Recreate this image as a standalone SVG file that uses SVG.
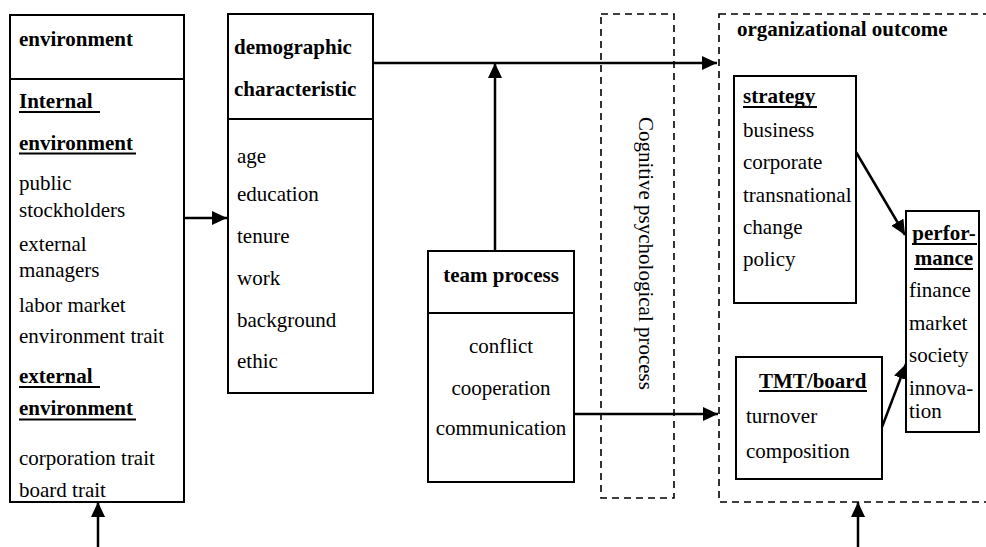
<svg xmlns="http://www.w3.org/2000/svg" width="986" height="547" viewBox="0 0 986 547">
<defs>
<marker id="ah" markerUnits="userSpaceOnUse" markerWidth="16" markerHeight="16" refX="15" refY="7" orient="auto">
<path d="M0,0 L15,7 L0,14 z" fill="#000"/>
</marker>
<style>
text{font-family:"Liberation Serif","Times New Roman",serif;font-size:21px;fill:#000}
.b{font-weight:bold}
.c{text-anchor:middle}
.box{fill:#fff;stroke:#000;stroke-width:2}
.dash{fill:none;stroke:#000;stroke-width:1.6;stroke-dasharray:7,5}
.ul{stroke:#000;stroke-width:2}
.con{fill:none;stroke:#000;stroke-width:2.5;marker-end:url(#ah)}
</style>
</defs>
<rect width="986" height="547" fill="#fff"/>

<g id="cognitive">
<rect class="dash" x="601" y="14" width="73" height="484"/>
<text transform="translate(639,117) rotate(90)">Cognitive psychological process</text>
</g>

<g id="organizational-outcome">
<rect class="dash" x="719" y="14" width="300" height="488"/>
<text class="b" x="737" y="36">organizational outcome</text>
</g>

<g id="environment">
<rect class="box" x="10" y="15" width="174" height="487"/>
<line class="ul" x1="10" y1="79" x2="184" y2="79" style="stroke-width:2"/>
<text class="b" x="19" y="46">environment</text>
<text class="b" x="19" y="108">Internal </text>
<line class="ul" x1="19" y1="112" x2="100" y2="112"/>
<text class="b" x="19" y="150">environment</text>
<line class="ul" x1="19" y1="153.5" x2="136" y2="153.5"/>
<text x="19" y="190">public</text>
<text x="19" y="217">stockholders</text>
<text x="19" y="251">external</text>
<text x="19" y="277">managers</text>
<text x="19" y="312">labor market</text>
<text x="19" y="343">environment trait</text>
<text class="b" x="19" y="383">external </text>
<line class="ul" x1="19" y1="387" x2="100" y2="387"/>
<text class="b" x="19" y="415">environment</text>
<line class="ul" x1="19" y1="419.5" x2="136" y2="419.5"/>
<text x="19" y="465">corporation trait</text>
<text x="19" y="497">board trait</text>
</g>

<g id="demographic">
<rect class="box" x="228" y="14" width="145" height="379"/>
<line class="ul" x1="228" y1="119" x2="373" y2="119"/>
<text class="b" x="234" y="54">demographic</text>
<text class="b" x="234" y="96">characteristic</text>
<text x="237" y="163">age</text>
<text x="237" y="201">education</text>
<text x="237" y="243">tenure</text>
<text x="237" y="285">work</text>
<text x="237" y="327">background</text>
<text x="237" y="368">ethic</text>
</g>

<g id="team-process">
<rect class="box" x="428" y="251" width="146" height="231"/>
<line class="ul" x1="428" y1="313" x2="574" y2="313"/>
<text class="b c" x="501" y="282">team process</text>
<text class="c" x="501" y="353">conflict</text>
<text class="c" x="501" y="395">cooperation</text>
<text class="c" x="501" y="435">communication</text>
</g>

<g id="strategy">
<rect class="box" x="734" y="76" width="122" height="227"/>
<text class="b" x="743" y="103">strategy</text>
<line class="ul" x1="743" y1="107" x2="817" y2="107"/>
<text x="743" y="137">business</text>
<text x="743" y="169">corporate</text>
<text x="743" y="202">transnational</text>
<text x="743" y="234">change</text>
<text x="743" y="266">policy</text>
</g>

<g id="performance">
<rect class="box" x="906" y="211" width="73" height="221"/>
<text class="b c" x="944" y="240">perfor-</text>
<line class="ul" x1="912" y1="244" x2="977" y2="244"/>
<text class="b c" x="944" y="265">mance</text>
<line class="ul" x1="914" y1="269" x2="973" y2="269"/>
<text x="909" y="297">finance</text>
<text x="909" y="330">market</text>
<text x="909" y="362">society</text>
<text x="909" y="395">innova-</text>
<text x="909" y="418">tion</text>
</g>

<g id="tmt-board">
<rect class="box" x="736" y="357" width="146" height="122"/>
<text class="b" x="759" y="388">TMT/board</text>
<line class="ul" x1="759" y1="391" x2="867" y2="391"/>
<text x="746" y="423">turnover</text>
<text x="746" y="458">composition</text>
</g>

<g id="connectors">
<line class="con" x1="184" y1="218" x2="227" y2="218"/>
<line class="con" x1="373" y1="63" x2="717" y2="63"/>
<line class="con" x1="495" y1="251" x2="495" y2="63"/>
<line class="con" x1="574" y1="414" x2="718" y2="414"/>
<line class="con" x1="856" y1="152" x2="905" y2="235"/>
<line class="con" x1="882" y1="427" x2="906" y2="364"/>
<line class="con" x1="98" y1="547" x2="98" y2="502"/>
<line class="con" x1="858" y1="547" x2="858" y2="502"/>
</g>
</svg>
